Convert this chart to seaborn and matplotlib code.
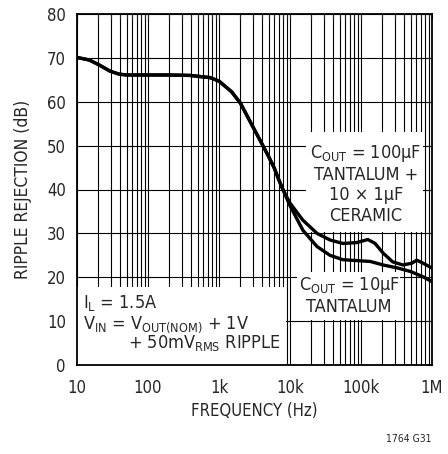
import numpy as np
import pandas as pd
import matplotlib
matplotlib.use("Agg")
import matplotlib.pyplot as plt
import seaborn as sns
from matplotlib.patches import Rectangle
from matplotlib.ticker import LogLocator, NullFormatter

# ripple rejection (Hz, dB)
freq_ceramic = [10, 15, 21, 29, 39, 50, 100, 200, 390, 750, 1000, 1500, 2000, 3000,
                4000, 5000, 6000, 7000, 8000, 10000, 15200, 24000, 36600, 55700,
                87000, 125000, 158000, 205000, 280000, 390000, 520000, 610000,
                750000, 1000000]
db_ceramic = [70.1, 69.5, 68.3, 67.0, 66.3, 66.1, 66.1, 66.1, 66.0, 65.5, 64.7, 62.3,
              59.7, 54.3, 50.5, 47.5, 44.9, 42.1, 39.9, 36.9, 33.0, 30.0, 28.5, 27.7,
              27.9, 28.6, 27.7, 25.5, 23.5, 22.8, 23.2, 23.9, 23.2, 22.1]

freq_tantalum = [10, 15, 21, 29, 39, 50, 100, 200, 390, 750, 1000, 1500, 2000, 3000,
                 4000, 5000, 6000, 7000, 8000, 10000, 15200, 24000, 36600, 55700,
                 87000, 135000, 205000, 330000, 500000, 750000, 1000000]
db_tantalum = [70.1, 69.5, 68.3, 67.0, 66.3, 66.1, 66.1, 66.1, 66.0, 65.5, 64.7, 62.3,
               59.7, 54.3, 50.5, 47.5, 44.9, 42.1, 39.9, 36.3, 30.7, 27.0, 25.0, 24.0,
               23.8, 23.6, 22.8, 22.1, 21.3, 20.1, 19.0]

xticks = [10, 100, 1000, 10000, 100000, 1000000]
xticklabels = ["10", "100", "1k", "10k", "100k", "1M"]
yticks = [0, 10, 20, 30, 40, 50, 60, 70, 80]

sns.set_style("white")
plt.rcParams["font.family"] = ["DejaVu Sans"]
plt.rcParams["font.stretch"] = "condensed"
plt.rcParams["mathtext.default"] = "regular"

df = pd.concat([
    pd.DataFrame({"freq": freq_ceramic, "db": db_ceramic, "curve": "ceramic"}),
    pd.DataFrame({"freq": freq_tantalum, "db": db_tantalum, "curve": "tantalum"}),
])

fig = plt.figure(figsize=(4.48, 4.54), dpi=100)
pos = [77 / 448, 1 - 365 / 454, 355 / 448, 351 / 454]
ax = fig.add_axes(pos)

sns.lineplot(data=df, x="freq", y="db", hue="curve", palette=["black", "black"],
             linewidth=2.4, legend=False, ax=ax, zorder=3)

ax.set_xscale("log")
ax.set_xlim(10, 1e6)
ax.set_ylim(0, 80)
ax.set_xticks(xticks)
ax.set_xticklabels(xticklabels)
ax.xaxis.set_minor_locator(LogLocator(base=10, subs=range(2, 10)))
ax.xaxis.set_minor_formatter(NullFormatter())
ax.set_yticks(yticks)
ax.set_axisbelow(True)
ax.grid(which="both", axis="x", color="black", lw=0.8)
ax.grid(which="major", axis="y", color="black", lw=0.8)
ax.tick_params(which="both", length=0, labelsize=12, pad=8)
ax.tick_params(axis="x", pad=10)

ax.set_xlabel("FREQUENCY (Hz)", fontsize=12)
ax.set_ylabel("RIPPLE REJECTION (dB)", fontsize=12.5)
ax.xaxis.set_label_coords(0.5, -0.105)
ax.yaxis.set_label_coords(-0.127, 0.5)

# white label boxes that blank out the grid
for x0, x1, y0, y1 in [(17000, 747000, 30.2, 53.1),
                       (12600, 350000, 10.2, 21.2),
                       (10, 8700, 0, 17.8)]:
    ax.add_patch(Rectangle((x0, y0), x1 - x0, y1 - y0, facecolor="white",
                           edgecolor="none", zorder=1.5))

tkw = dict(fontsize=13, zorder=4)
ax.text(117000, 47.1, "C$_{OUT}$ = 100µF", ha="center", **tkw)
ax.text(117000, 42.1, "TANTALUM +", ha="center", **tkw)
ax.text(117000, 37.6, "10 × 1µF", ha="center", **tkw)
ax.text(117000, 32.8, "CERAMIC", ha="center", **tkw)
ax.text(68000, 17.1, "C$_{OUT}$ = 10µF", ha="center", **tkw)
ax.text(68000, 12.1, "TANTALUM", ha="center", **tkw)
ax.text(12.0, 12.9, "I$_{L}$ = 1.5A", ha="left", **tkw)
ax.text(12.0, 8.2, "V$_{IN}$ = V$_{OUT(NOM)}$ + 1V", ha="left", **tkw)
ax.text(52, 3.8, "+ 50mV$_{RMS}$ RIPPLE", ha="left", **tkw)

# overlay axes for the inward ticks and frame, drawn over the boxes
ax_t = fig.add_axes(pos, sharex=ax, sharey=ax)
ax_t.patch.set_alpha(0)
ax_t.grid(False)
ax_t.tick_params(which="both", direction="in", top=True, right=True,
                 labelbottom=False, labelleft=False, length=3.5, width=0.8)
for s in ax_t.spines.values():
    s.set_linewidth(1.3)
    s.set_color("black")
for s in ax.spines.values():
    s.set_visible(False)

fig.text(0.913, 0.026, "1764 G31", ha="center", fontsize=7.5)

fig.savefig("out.png", dpi=100)
